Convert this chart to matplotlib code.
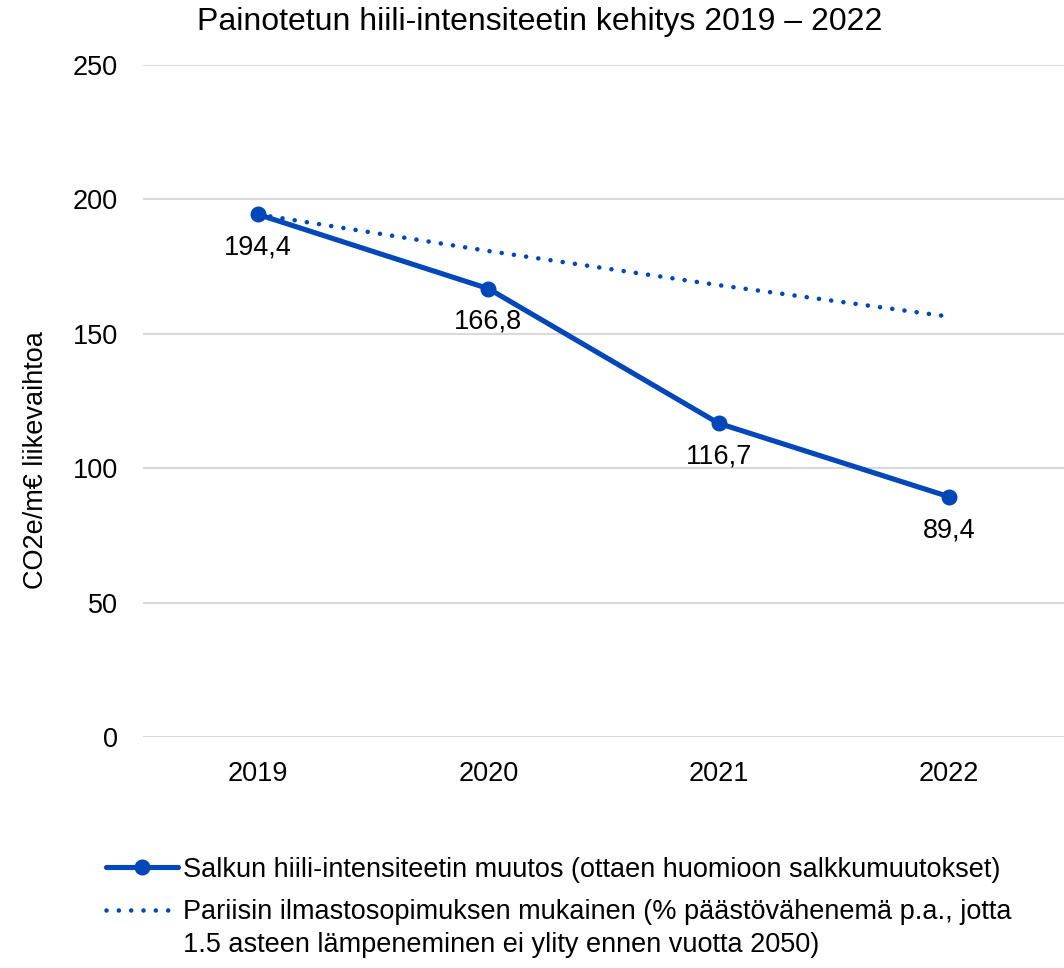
import matplotlib.pyplot as plt

plt.rcParams['font.family'] = ['Liberation Sans', 'DejaVu Sans']

years = ['2019', '2020', '2021', '2022']
portfolio = [194.4, 166.8, 116.7, 89.4]
paris_path = [194.4, 180.8, 168.1, 156.4]
labels = ['194,4', '166,8', '116,7', '89,4']
y_ticks = [0, 50, 100, 150, 200, 250]

blue = '#0047BA'
fs = 19.5

fig = plt.figure(figsize=(10.64, 9.68), dpi=100)
ax = fig.add_axes([143 / 1064, 1 - 737 / 968, 1 - 143 / 1064, 672 / 968])

x = range(len(years))
ax.plot(x, portfolio, color=blue, lw=3.7, marker='o', markersize=10.5,
        solid_capstyle='round',
        label='Salkun hiili-intensiteetin muutos (ottaen huomioon salkkumuutokset)')
ax.plot(x, paris_path, color=blue, lw=3.3, linestyle=(0, (0.01, 2.68)),
        dash_capstyle='round',
        label='Pariisin ilmastosopimuksen mukainen (% päästövähenemä p.a., jotta')

for xi, v, t in zip(x, portfolio, labels):
    ax.annotate(t, (xi, v), xytext=(0, -24), textcoords='offset points',
                ha='center', va='center', fontsize=fs)

ax.set_xlim(-0.5, len(years) - 0.5)
ax.set_ylim(0, 250)
ax.set_xticks(list(x))
ax.set_xticklabels(years)
ax.set_yticks(y_ticks)
ax.tick_params(length=0, labelsize=fs)
ax.tick_params(axis='x', pad=17)
ax.tick_params(axis='y', pad=18)
ax.grid(axis='y', color='#d9d9d9', lw=1.5)
ax.set_axisbelow(True)
for s in ax.spines.values():
    s.set_visible(False)

ax.set_ylabel('CO2e/m€ liikevaihtoa', fontsize=fs)
ax.yaxis.set_label_coords(-(143 - 49) / 921, (737 - 460) / 672)
fig.text(540 / 1064, 1 - 22 / 968, 'Painotetun hiili-intensiteetin kehitys 2019 – 2022',
         ha='center', va='center', fontsize=23)

leg = fig.legend(loc='upper left', bbox_to_anchor=(95 / 1064, 1 - 846 / 968),
                 frameon=False, fontsize=fs, handlelength=2.66, handletextpad=0.2,
                 labelspacing=0.6, borderaxespad=0)
# second line of the Paris-path legend entry
fig.text(183 / 1064, 1 - 945 / 968,
         '1.5 asteen lämpeneminen ei ylity ennen vuotta 2050)',
         ha='left', va='center', fontsize=fs)

fig.savefig('out.png', dpi=100)
